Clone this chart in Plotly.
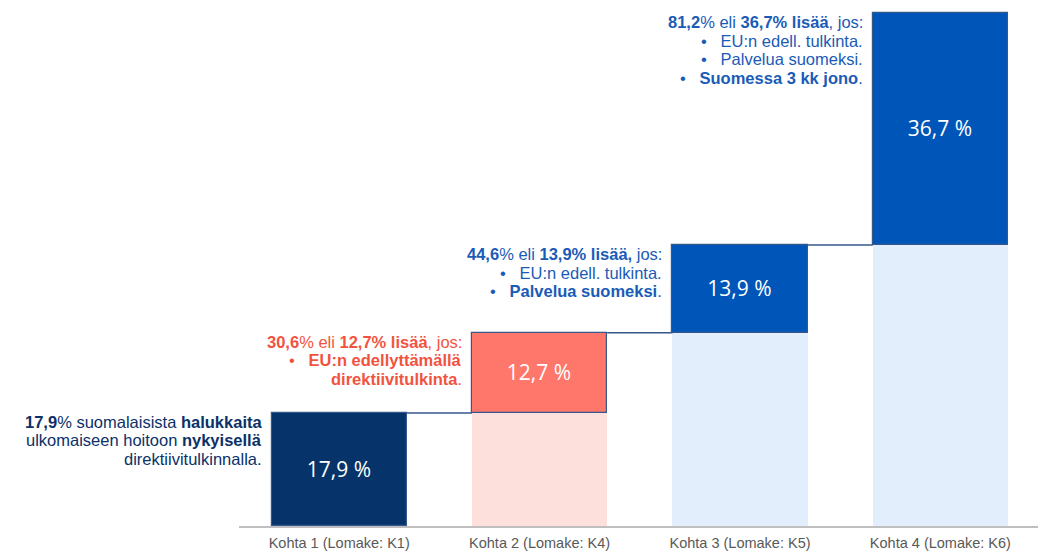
import plotly.graph_objects as go

categories = ["Kohta 1 (Lomake: K1)", "Kohta 2 (Lomake: K4)", "Kohta 3 (Lomake: K5)", "Kohta 4 (Lomake: K6)"]
increments = [17.9, 12.7, 13.9, 36.7]
bar_labels = ["17,9 %", "12,7 %", "13,9 %", "36,7 %"]
bar_colors = ["#06346A", "#FF766A", "#0055B8", "#0055B8"]
ghost_colors = ["rgba(0,0,0,0)", "#FDDFDB", "#E3EEFC", "#E3EEFC"]
note_colors = ["#0B3168", "#F2533F", "#1A5BB8", "#1A5BB8"]
B = "•\u00a0\u00a0\u00a0"
notes = [
    ["<b>17,9</b>% suomalaisista <b>halukkaita</b>",
     "ulkomaiseen hoitoon <b>nykyisellä</b>",
     "direktiivitulkinnalla."],
    ["<b>30,6</b>% eli <b>12,7% lisää</b>, jos:",
     B + "<b>EU:n edellyttämällä</b>",
     "<b>direktiivitulkinta</b>."],
    ["<b>44,6</b>% eli <b>13,9% lisää,</b> jos:",
     B + "EU:n edell. tulkinta.",
     B + "<b>Palvelua suomeksi</b>."],
    ["<b>81,2</b>% eli <b>36,7% lisää</b>, jos:",
     B + "EU:n edell. tulkinta.",
     B + "Palvelua suomeksi.",
     B + "<b>Suomessa 3 kk jono</b>."],
]

n = len(categories)
xs = list(range(n))
bases = []
tops = []
acc = 0.0
for v in increments:
    bases.append(acc)
    acc += v
    tops.append(acc)

W = 0.674
OUTLINE = "#36578A"
LINE_H = 18.5

fig = go.Figure()
# ghost (base) bars
fig.add_trace(go.Bar(
    x=xs, y=bases, base=0, width=W,
    marker=dict(color=ghost_colors, line=dict(width=0)),
    hoverinfo="skip", showlegend=False,
))
# main bars
fig.add_trace(go.Bar(
    x=xs, y=increments, base=bases, width=W,
    marker=dict(color=bar_colors, line=dict(color=OUTLINE, width=1.2)),
    text=bar_labels, textposition="inside", insidetextanchor="middle",
    textangle=0, constraintext="none",
    textfont=dict(color="white", size=21, family="Open Sans"),
    showlegend=False,
))
# connectors
cx, cy = [], []
for i in range(n - 1):
    cx += [xs[i] + W / 2, xs[i + 1] - W / 2, None]
    cy += [tops[i], tops[i], None]
fig.add_trace(go.Scatter(x=cx, y=cy, mode="lines",
                         line=dict(color=OUTLINE, width=1.4),
                         hoverinfo="skip", showlegend=False))

for i in range(n):
    for k, line in enumerate(notes[i]):
        fig.add_annotation(
            x=xs[i] - W / 2, y=tops[i], xref="x", yref="y",
            xanchor="right", yanchor="middle", align="right",
            borderpad=0,
            text=line, showarrow=False, xshift=-9, yshift=-(9 + k * LINE_H),
            font=dict(family="Liberation Sans", size=16.5, color=note_colors[i]),
        )

fig.update_layout(
    width=1038, height=552,
    margin=dict(l=239, r=0, t=0, b=26),
    paper_bgcolor="white", plot_bgcolor="white",
    barmode="overlay", bargap=0,
    xaxis=dict(range=[-0.5, 3.487], tickvals=xs, ticktext=categories,
               showline=True, linecolor="#BFBFBF", linewidth=2,
               showgrid=False, zeroline=False, ticks="", ticklabelstandoff=3,
               tickfont=dict(family="Liberation Sans, Arial", size=14.5, color="#595959")),
    yaxis=dict(range=[0, 83.3], visible=False, showgrid=False, zeroline=False),
)

fig.write_html("out.html")
